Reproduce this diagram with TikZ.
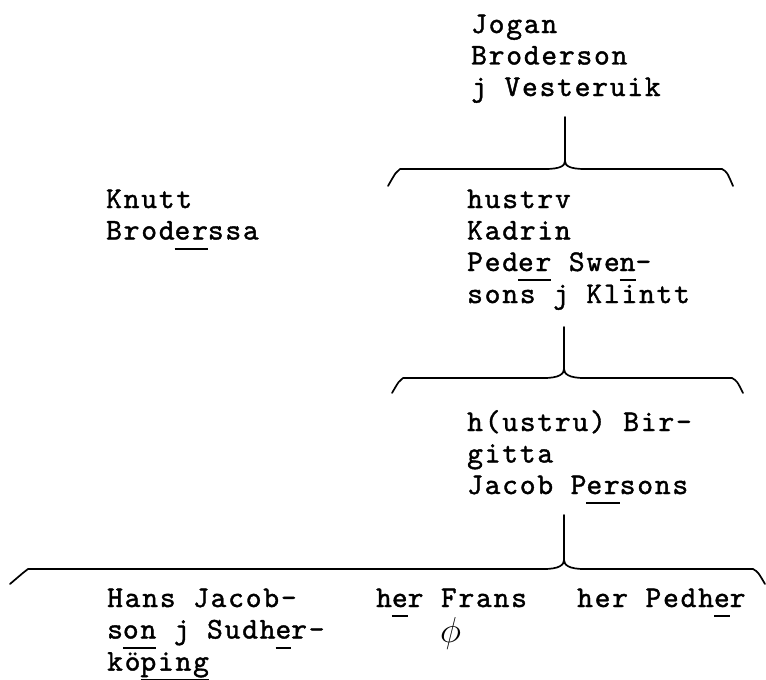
\documentclass[tikz,border=0pt]{standalone}
\usepackage{fontspec}
\setmainfont{lmmono10-regular.otf}[LetterSpace=6,FakeBold=1.3]
\newsavebox\ubx
\newcommand\ub[1]{\sbox\ubx{#1}\rlap{\rule[-10pt]{\wd\ubx}{2pt}}\usebox\ubx}
\begin{document}
\begin{tikzpicture}[x=1pt,y=-1pt,
  lbl/.style={anchor=base west, inner sep=0pt, font=\fontsize{30}{31.5}\selectfont},
  brace/.style={line width=1.7pt, line join=round, line cap=round}]
\useasboundingbox (0,0) rectangle (766,680);
% texts
\node[lbl] (jogan) at (471,33) {\begin{tabular}[t]{@{}l@{}}Jogan\\Broderson\\j Vesteruik\end{tabular}};
\node[lbl] (knutt) at (106,208) {\begin{tabular}[t]{@{}l@{}}Knutt\\Brod\ub{er}ssa\end{tabular}};
\node[lbl] (kadrin) at (467,208) {\begin{tabular}[t]{@{}l@{}}hustrv\\Kadrin\\Ped\ub{er} Swe\ub{n}-\\sons j Klintt\end{tabular}};
\node[lbl] (birgitta) at (467,431) {\begin{tabular}[t]{@{}l@{}}h(ustru) Bir-\\gitta\\Jacob P\ub{er}sons\end{tabular}};
\node[lbl] (hans) at (107,607) {\begin{tabular}[t]{@{}l@{}}Hans Jacob-\\s\ub{on} j Sudh\ub{e}r-\\kö\ub{ping}\end{tabular}};
\node[lbl] (frans) at (376,607) {\begin{tabular}[t]{@{}l@{}}h\ub{e}r Frans\\\hspace*{64pt}\scalebox{1.45}{$\phi$}\end{tabular}};
\node[lbl] (pedher) at (577,607) {her Pedh\ub{e}r};
% brace 1
\coordinate (b1top) at (565,117);
\coordinate (b1c) at (565,161);
\coordinate (b1l) at (388,186);
\coordinate (b1r) at (733,186);
\draw[brace] (b1top) -- (b1c)
  .. controls (565,166) and (560,169) .. (545,169) -- (400,169) .. controls (396,172) .. (b1l);
\draw[brace] (b1c)
  .. controls (565,166) and (570,169) .. (585,169) -- (722,169) .. controls (727,172) .. (b1r);
% brace 2
\coordinate (b2top) at (564,327);
\coordinate (b2c) at (564,369);
\coordinate (b2l) at (392,393);
\coordinate (b2r) at (743,393);
\draw[brace] (b2top) -- (b2c)
  .. controls (564,374) and (559,378) .. (544,378) -- (403,378) .. controls (399,381) .. (b2l);
\draw[brace] (b2c)
  .. controls (564,374) and (569,378) .. (584,378) -- (732,378) .. controls (737,381) .. (b2r);
% brace 3
\coordinate (b3top) at (564,515);
\coordinate (b3c) at (564,560);
\coordinate (b3l) at (10,584);
\coordinate (b3r) at (765,584);
\draw[brace] (b3top) -- (b3c)
  .. controls (564,565) and (559,569) .. (544,569) -- (28,569) .. controls (24,572) .. (b3l);
\draw[brace] (b3c)
  .. controls (564,565) and (569,569) .. (584,569) -- (753,569) .. controls (758,572) .. (b3r);
\end{tikzpicture}
\end{document}
